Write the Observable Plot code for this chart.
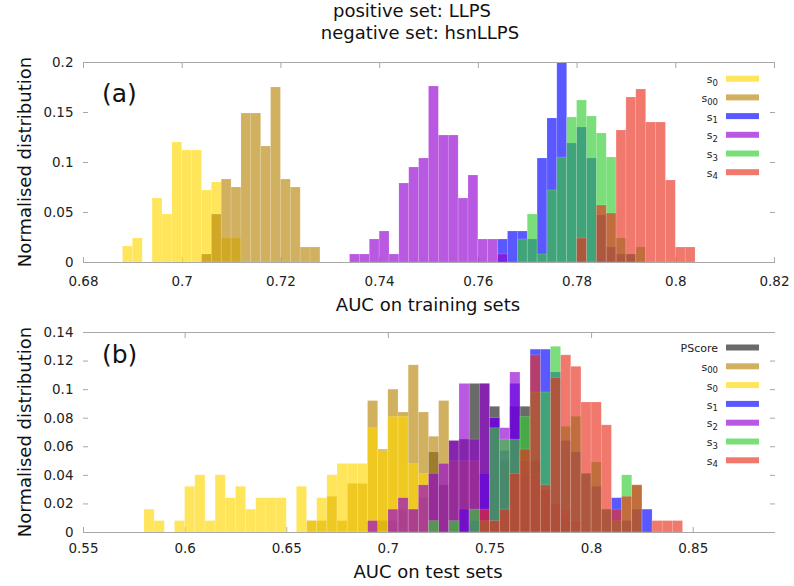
<!DOCTYPE html>
<html><head><meta charset="utf-8">
<script src="https://cdn.jsdelivr.net/npm/d3@7"></script>
<script src="https://cdn.jsdelivr.net/npm/@observablehq/plot@0.6"></script>
<style>
body{margin:0;background:#fff;font-family:"DejaVu Sans",sans-serif;}
#wrap{position:relative;width:794px;height:586px;overflow:hidden;background:#fff;}
#wrap svg{position:absolute;left:0;}
</style></head><body><div id="wrap"></div>
<script>
// ---------- data: panel (a) training sets, bin width 0.002 ----------
const trainBin = 0.002;
const trainS0Start = 0.688;
const trainS0 = [0.016, 0.024, 0, 0.064, 0.048, 0.120, 0.112, 0.112, 0.072, 0.080, 0.024, 0.024];
const trainS00Start = 0.704;
const trainS00 = [0.008, 0.048, 0.083, 0.075, 0.149, 0.149, 0.116, 0.175, 0.083, 0.075, 0.015, 0.015];
const trainS1Start = 0.764;
const trainS1 = [0.023, 0.031, 0.031, 0.023, 0.104, 0.144, 0.200, 0.119, 0.135, 0.104, 0.047, 0.015, 0.008, 0.008];
const trainS2Start = 0.734;
const trainS2 = [0.008, 0.008, 0.023, 0.031, 0.008, 0.079, 0.095, 0.104, 0.176, 0.127, 0.127, 0.064, 0.087, 0.023, 0.023, 0.008];
const trainS3Start = 0.768;
const trainS3 = [0.023, 0.048, 0.008, 0.072, 0.105, 0.145, 0.162, 0.146, 0.129, 0.105, 0.024, 0.008, 0.015];
const trainS4Start = 0.780;
const trainS4 = [0.024, 0, 0.057, 0.049, 0.132, 0.165, 0.173, 0.140, 0.140, 0.082, 0.015, 0.015];

// ---------- data: panel (b) test sets, bin width 0.005 ----------
const testBin = 0.005;
const testPScoreStart = 0.695;
const testPScore = [0.008, 0.008, 0.016, 0.016, 0.024, 0.056, 0.033, 0.064, 0.065, 0.104, 0.104, 0.088, 0.050, 0.088, 0.088, 0.050, 0.030, 0.020, 0.010];
const testS00Start = 0.660;
const testS00 = [0.008, 0.008, 0.025, 0.008, 0.034, 0.034, 0.092, 0.058, 0.100, 0.084, 0.117, 0.084, 0.067, 0.092, 0.050, 0.050, 0.050];
const testS0Start = 0.580;
const testS0 = [0.016, 0.008, 0, 0.008, 0.032, 0.040, 0.008, 0.040, 0.024, 0.032, 0.016, 0.024, 0.024, 0.024, 0, 0.032, 0.008, 0.024, 0.040, 0.048, 0.048, 0.048, 0.073, 0.057, 0.081, 0.081, 0.048, 0.041];
const testS1Start = 0.735;
const testS1 = [0.016, 0.008, 0.041, 0.080, 0.057, 0.104, 0.040, 0.128, 0.128, 0.112, 0.064, 0.056, 0.041, 0.032, 0.016, 0.024, 0.008, 0.016, 0.016];
const testS2Start = 0.690;
const testS2 = [0.008, 0, 0.016, 0.024, 0.016, 0.033, 0.041, 0.048, 0.064, 0.104, 0.065, 0.104, 0.080, 0.073, 0.112, 0.050, 0.040, 0.030, 0.020, 0.016, 0.008];
const testS3Start = 0.720;
const testS3 = [0.008, 0, 0.008, 0, 0.016, 0.008, 0.073, 0.065, 0.065, 0.081, 0.098, 0.098, 0.130, 0.074, 0.081, 0.041, 0.049, 0.016, 0.008, 0.040, 0.033];
const testS4Start = 0.745;
const testS4 = [0.016, 0.008, 0.016, 0.041, 0.058, 0.124, 0.033, 0.108, 0.124, 0.116, 0.091, 0.091, 0.075, 0.016, 0.025, 0.033, 0, 0.008, 0.008, 0.008];

// ---------- axes / labels ----------
const trainXDomain = [0.68, 0.82];
const trainYDomain = [0, 0.2];
const trainXTicks = [0.68, 0.70, 0.72, 0.74, 0.76, 0.78, 0.80, 0.82];
const trainYTicks = [0, 0.05, 0.10, 0.15, 0.20];
const testXDomain = [0.55, 0.89];
const testYDomain = [0, 0.14];
const testXTicks = [0.55, 0.60, 0.65, 0.70, 0.75, 0.80, 0.85];
const testXTopTicks = [0.60, 0.70, 0.80];
const testYTicks = [0, 0.02, 0.04, 0.06, 0.08, 0.10, 0.12, 0.14];
const titleLines = ["positive set: LLPS", "negative set: hsnLLPS"];
const yLabel = "Normalised distribution";
const trainXLabel = "AUC on training sets";
const testXLabel = "AUC on test sets";
const trainLegend = [["s","0"],["s","00"],["s","1"],["s","2"],["s","3"],["s","4"]];
const testLegend = [["PScore",""],["s","00"],["s","0"],["s","1"],["s","2"],["s","3"],["s","4"]];
const trainOrder = ["s0","s00","s1","s2","s3","s4"];
const testOrder = ["PScore","s00","s0","s1","s2","s3","s4"];

const colors = {PScore:"#1a1a1a", s0:"#FFD700", s00:"#B8860B", s1:"#0000FF", s2:"#9400D3", s3:"#32CD32", s4:"#E8301E"};
const alpha = 0.65;

function bins(start, values, bw) {
  return values.map((v, i) => ({x1: start + i * bw, x2: start + (i + 1) * bw, y: v})).filter(d => d.y > 0);
}
const fmt = d => String(+(+d).toFixed(4));

const trainData = {
  s0: bins(trainS0Start, trainS0, trainBin), s00: bins(trainS00Start, trainS00, trainBin),
  s1: bins(trainS1Start, trainS1, trainBin), s2: bins(trainS2Start, trainS2, trainBin),
  s3: bins(trainS3Start, trainS3, trainBin), s4: bins(trainS4Start, trainS4, trainBin)
};
const testData = {
  PScore: bins(testPScoreStart, testPScore, testBin), s00: bins(testS00Start, testS00, testBin),
  s0: bins(testS0Start, testS0, testBin), s1: bins(testS1Start, testS1, testBin),
  s2: bins(testS2Start, testS2, testBin), s3: bins(testS3Start, testS3, testBin),
  s4: bins(testS4Start, testS4, testBin)
};

const axisGray = "#a8a8a8";
function panel({data, order, xDomain, yDomain, xTicks, xTopTicks, yTicks, height, marginTop, marginBottom, xPad}) {
  return Plot.plot({
    width: 794, height, marginTop, marginBottom, marginLeft: 83, marginRight: 20,
    style: {fontFamily: "DejaVu Sans", fontSize: "13.5px", background: "transparent", color: "#222", overflow: "visible"},
    x: {domain: xDomain, type: "linear"},
    y: {domain: yDomain, type: "linear"},
    marks: [
      Plot.axisY({ticks: yTicks, tickSize: -5, tickPadding: 15, tickFormat: fmt, label: null, stroke: axisGray, fill: "#222"}),
      Plot.axisY({anchor: "right", ticks: yTicks, tickSize: -5, tickFormat: () => "", label: null, stroke: axisGray}),
      Plot.axisX({anchor: "top", ticks: xTopTicks, tickSize: -5, tickFormat: () => "", label: null, stroke: axisGray}),
      Plot.axisX({anchor: "bottom", ticks: xTicks, tickSize: -5, tickPadding: xPad, tickFormat: fmt, label: null, stroke: axisGray, fill: "#222"}),
      ...order.map(k => Plot.rect(data[k], {
        x1: "x1", x2: "x2", y1: 0, y2: "y", inset: 0,
        fill: colors[k], fillOpacity: alpha,
        stroke: "white", strokeOpacity: 0.25, strokeWidth: 0.6
      })),
      Plot.ruleY(yDomain, {stroke: axisGray, strokeWidth: 1})
    ]
  });
}

const wrap = document.getElementById("wrap");
const p1 = panel({data: trainData, order: trainOrder, xDomain: trainXDomain, yDomain: trainYDomain,
  xTicks: trainXTicks, xTopTicks: trainXTicks, yTicks: trainYTicks, height: 320, marginTop: 62, marginBottom: 58, xPad: 19.4});
p1.style.top = "0px";
wrap.appendChild(p1);
const p2 = panel({data: testData, order: testOrder, xDomain: testXDomain, yDomain: testYDomain,
  xTicks: testXTicks, xTopTicks: testXTopTicks, yTicks: testYTicks, height: 266, marginTop: 12, marginBottom: 54, xPad: 16.4});
p2.style.top = "320px";
wrap.appendChild(p2);

// ---------- overlay: titles, axis labels, panel tags, legends ----------
const svg = d3.select(wrap).append("svg")
  .attr("width", 794).attr("height", 586).style("top", "0px")
  .style("font-family", "DejaVu Sans").style("pointer-events", "none");

svg.append("text").attr("x", 412).attr("y", 17).attr("text-anchor", "middle").attr("font-size", 18).attr("fill", "#111").text(titleLines[0]);
svg.append("text").attr("x", 420).attr("y", 38.5).attr("text-anchor", "middle").attr("font-size", 18).attr("fill", "#111").text(titleLines[1]);

[[162], [432]].forEach(([cy]) => {
  svg.append("text").attr("transform", `translate(31,${cy}) rotate(-90)`).attr("text-anchor", "middle")
    .attr("font-size", 18).attr("fill", "#111").text(yLabel);
});
svg.append("text").attr("x", 428).attr("y", 311).attr("text-anchor", "middle").attr("font-size", 18).attr("fill", "#111").text(trainXLabel);
svg.append("text").attr("x", 428).attr("y", 578).attr("text-anchor", "middle").attr("font-size", 18).attr("fill", "#111").text(testXLabel);

svg.append("text").attr("x", 102).attr("y", 102).attr("font-size", 25).attr("fill", "#111").text("(a)");
svg.append("text").attr("x", 102).attr("y", 363).attr("font-size", 25).attr("fill", "#111").text("(b)");

function legend(items, keys, y0, step) {
  items.forEach(([base, sub], i) => {
    const cy = y0 + i * step;
    const t = svg.append("text").attr("x", 718).attr("y", cy + 4.6).attr("text-anchor", "end")
      .attr("font-size", 11).attr("fill", "#222");
    t.append("tspan").text(base);
    if (sub) t.append("tspan").attr("font-size", 8.5).attr("dy", 2.5).text(sub);
    svg.append("rect").attr("x", 726).attr("y", cy - 3).attr("width", 33).attr("height", 6)
      .attr("fill", colors[keys[i]]).attr("fill-opacity", alpha);
  });
}
legend(trainLegend, trainOrder, 78.7, 18.7);
legend(testLegend, testOrder, 347.5, 18.8);
</script></body></html>
